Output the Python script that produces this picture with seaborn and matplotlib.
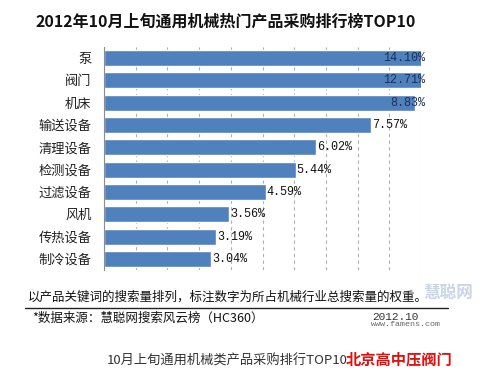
import matplotlib
matplotlib.use("Agg")
import matplotlib.pyplot as plt
import seaborn as sns
import pandas as pd
import numpy as np

categories = ["泵", "阀门", "机床", "输送设备", "清理设备", "检测设备", "过滤设备", "风机", "传热设备", "制冷设备"]
values = [14.10, 12.71, 8.83, 7.57, 6.02, 5.44, 4.59, 3.56, 3.19, 3.04]
value_labels = ["14.10%", "12.71%", "8.83%", "7.57%", "6.02%", "5.44%", "4.59%", "3.56%", "3.19%", "3.04%"]

title = "2012年10月上旬通用机械热门产品采购排行榜TOP10"
note1 = "以产品关键词的搜索量排列，标注数字为所占机械行业总搜索量的权重。"
note2 = "*数据来源：慧聪网搜索风云榜（HC360）"
date_text = "2012.10"
caption = "10月上旬通用机械类产品采购排行TOP10"
red_caption = "北京高中压阀门"

sns.set_theme(style="white")
plt.rcParams['font.family'] = ['Noto Sans CJK SC', 'DejaVu Sans']

W, H = 478, 372
fig = plt.figure(figsize=(W / 100, H / 100), dpi=100)
fig.patch.set_facecolor("white")

def fx(px):
    return px / W

def fy(py):
    return 1 - py / H

ax = fig.add_axes([fx(104), fy(270), fx(421) - fx(104), fy(47) - fy(270)])
df = pd.DataFrame({"cat": categories, "val": values})
sns.barplot(data=df, x="val", y="cat", orient="h", color="#4F81BD", saturation=1,
            width=0.72, ax=ax)
xmax = 9.0
ax.set_xlim(0, xmax)
ax.set_ylim(len(categories) - 0.5, -0.5)
ax.set_xticks(np.arange(0, xmax + 0.01, 0.9))
ax.set_xticklabels([])
ax.tick_params(axis="x", length=0)
ax.xaxis.grid(True, linestyle=(0, (3, 3)), color="#b0b0b0", linewidth=0.8)
ax.set_axisbelow(True)
ax.set_xlabel("")
ax.set_ylabel("")
for s in ["top", "right", "bottom"]:
    ax.spines[s].set_visible(False)
ax.spines["left"].set_color("#8c8c8c")
ax.spines["left"].set_linewidth(0.8)
ax.set_yticks(np.arange(-0.5, len(categories), 1.0), minor=True)
ax.tick_params(axis="y", which="minor", direction="in", length=3, color="#8c8c8c")
ax.tick_params(axis="y", which="major", length=0, pad=9, labelsize=9.5, labelcolor="#222222")

for i, (v, lab) in enumerate(zip(values, value_labels)):
    if v > 8.5:
        ax.text(xmax + 0.12, i, lab, ha="right", va="center", fontsize=8.5,
                family=["Liberation Mono"], color="#1c2f5e", clip_on=False)
    else:
        ax.text(v + 0.03, i, lab, ha="left", va="center", fontsize=8.5,
                family=["Liberation Mono"], color="#111111")

fig.text(fx(226), fy(22), title, ha="center", va="center", fontsize=11.5,
         fontweight="bold", color="#111111")

fig.text(fx(28), fy(297), note1, ha="left", va="center", fontsize=9, color="#111111")
fig.add_artist(plt.Line2D([fx(25), fx(448)], [fy(308), fy(308)], color="#222222", linewidth=1))
fig.text(fx(32), fy(318), note2, ha="left", va="center", fontsize=9, color="#111111")

# faint watermark
fig.text(fx(448), fy(293), "慧聪网", ha="center", va="center", fontsize=12, fontweight="bold",
         style="italic", color="#c5d0e6", alpha=0.9)
fig.text(fx(395), fy(317), date_text, ha="center", va="center", fontsize=8,
         family=["Liberation Mono"], color="#333333")
fig.text(fx(406), fy(325), "www.famens.com", ha="center", va="center", fontsize=6,
         family=["Liberation Mono"], color="#666666")

fig.text(fx(107), fy(361), caption, ha="left", va="center", fontsize=9.5, color="#333333")
fig.text(fx(452), fy(360), red_caption, ha="right", va="center", fontsize=11,
         fontweight="bold", color="#e01010")

fig.savefig("out.png", dpi=100, facecolor="white")
